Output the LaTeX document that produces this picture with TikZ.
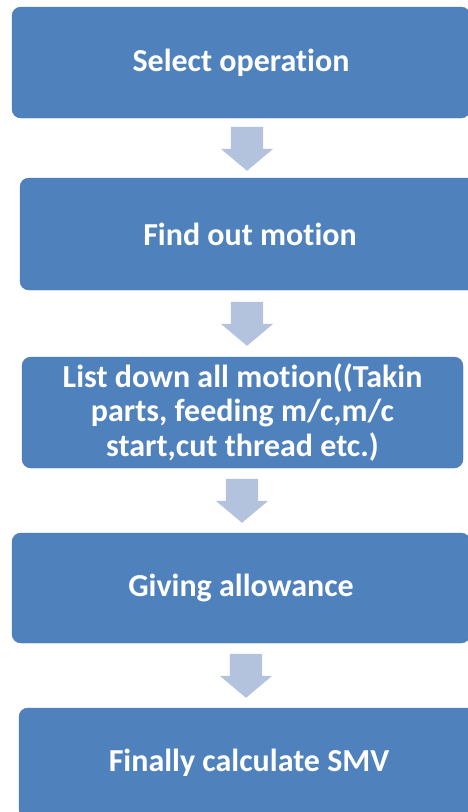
\documentclass[tikz,border=0pt]{standalone}
\usepackage{fontspec}
\setmainfont{Carlito}[Ligatures=CommonOff]
\usepackage{tikz}
\usetikzlibrary{shapes.arrows}
\definecolor{boxblue}{HTML}{4F81BD}
\definecolor{arrowblue}{HTML}{B3C3DE}
\tikzstyle{stepbox}=[rectangle, rounded corners=9pt, fill=boxblue, draw=boxblue!90!black, line width=.4pt, text=white, font=\fontsize{32}{34.5}\selectfont\bfseries, align=center, inner sep=0pt]
\tikzstyle{downarrow}=[single arrow, shape border rotate=270, fill=arrowblue, draw=none, minimum width=52pt, minimum height=44pt, single arrow head extend=10pt, single arrow tip angle=100, inner xsep=16pt, inner ysep=0pt]

\begin{document}
\begin{tikzpicture}[x=1pt, y=-1pt]
    \useasboundingbox (0,0) rectangle (468,812);
    \clip (0,0) rectangle (468,812);

    \node[stepbox, minimum width=458pt, minimum height=111pt] (select) at (241,62.5) {Select operation};
    \node[stepbox, minimum width=460pt, minimum height=112pt] (find) at (250,234) {Find out motion};
    \node[stepbox, minimum width=441pt, minimum height=111pt] (list) at (242.5,412.5) {List down all motion((Takin\\parts, feeding m/c,m/c\\start,cut thread etc.)};
    \node[stepbox, minimum width=458pt, minimum height=110pt] (allow) at (241,588) {Giving allowance};
    \node[stepbox, minimum width=460pt, minimum height=110pt] (smv) at (249,763) {Finally calculate SMV};

    \node[downarrow] (a1) at (247,142) {};
    \node[downarrow] (a2) at (247,317) {};
    \node[downarrow] (a3) at (242,494) {};
    \node[downarrow] (a4) at (246,669) {};

  \end{tikzpicture}
\end{document}
